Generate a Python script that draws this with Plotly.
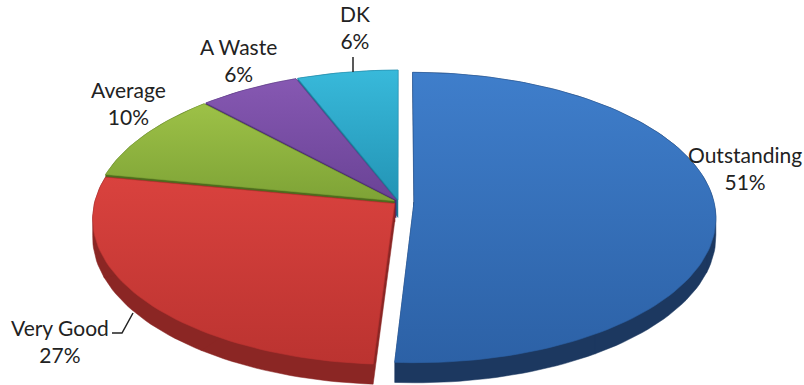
import numpy as np
import plotly.graph_objects as go

# Survey result shares (percent)
categories = ["Outstanding", "Very Good", "Average", "A Waste", "DK"]
shares = [51, 27, 10, 6, 6]

# Styling per slice
top_colors = [("#3f7ecb", "#2c61a6"), ("#d9423e", "#bb3330"), ("#9dc147", "#7ea336"),
              ("#8658b2", "#6a4396"), ("#38b9da", "#2394b5")]
side_colors = ["#1c3860", "#8b2624", "#4e6c1d", "#4b2d71", "#1c7b96"]
explode = [0.05, 0.018, 0.018, 0.018, 0.018]

W, H = 804, 385
CX, CY = 399, 202          # centre of the disk on screen
RX, RY = 300, 143.5        # screen radii of the tilted disk
FOCAL = 9.5                # perspective strength (in disk radii)
DEPTH = 18                 # thickness of the disk in pixels


def project(u, v, z=0.0):
    """Map disk coords (u right, v toward viewer) to screen pixels."""
    s = FOCAL / (FOCAL - v)
    return CX + RX * u * s, CY + RY * v * s + DEPTH * z * s


def hull(points):
    pts = sorted(set(points))
    if len(pts) < 3:
        return pts

    def cross(o, a, b):
        return (a[0] - o[0]) * (b[1] - o[1]) - (a[1] - o[1]) * (b[0] - o[0])

    lower, upper = [], []
    for p in pts:
        while len(lower) >= 2 and cross(lower[-2], lower[-1], p) <= 0:
            lower.pop()
        lower.append(p)
    for p in reversed(pts):
        while len(upper) >= 2 and cross(upper[-2], upper[-1], p) <= 0:
            upper.pop()
        upper.append(p)
    return lower[:-1] + upper[:-1]


def wedge(t0, t1, du, dv, z):
    n = max(4, int(np.degrees(t1 - t0) / 1.5))
    ts = np.linspace(t0, t1, n)
    pts = [project(du, dv, z)]
    pts += [project(du + np.sin(t), dv - np.cos(t), z) for t in ts]
    return pts


total = float(sum(shares))
bounds = np.concatenate([[0.0], np.cumsum(shares) / total * 2 * np.pi])

slices = []
for i in range(len(shares)):
    t0, t1 = bounds[i], bounds[i + 1]
    mid = 0.5 * (t0 + t1)
    du, dv = explode[i] * np.sin(mid), -explode[i] * np.cos(mid)
    slices.append((dv, i, t0, t1, du))

fig = go.Figure()

# back slices first so nearer ones overlap them
for dv, i, t0, t1, du in sorted(slices, key=lambda s: s[0]):
    # extruded side: union of hulls of narrow sub-wedges (top + bottom faces)
    nsub = int(np.ceil(np.degrees(t1 - t0) / 45.0))
    edges = np.linspace(t0, t1, nsub + 1)
    for a, b in zip(edges[:-1], edges[1:]):
        pts = hull(wedge(a, b, du, dv, 0) + wedge(a, b, du, dv, 1))
        xs = [p[0] for p in pts] + [pts[0][0]]
        ys = [p[1] for p in pts] + [pts[0][1]]
        fig.add_trace(go.Scatter(x=xs, y=ys, mode="lines", fill="toself",
                                 fillcolor=side_colors[i],
                                 line=dict(width=0.5, color=side_colors[i]),
                                 hoverinfo="skip", showlegend=False))
    # top face with a soft vertical gradient
    pts = wedge(t0, t1, du, dv, 0)
    xs = [p[0] for p in pts] + [pts[0][0]]
    ys = [p[1] for p in pts] + [pts[0][1]]
    c0, c1 = top_colors[i]
    fig.add_trace(go.Scatter(
        x=xs, y=ys, mode="lines", fill="toself",
        fillgradient=dict(type="vertical", colorscale=[[0, c0], [1, c1]],
                          start=min(ys), stop=max(ys)),
        line=dict(width=0.6, color=c1),
        name=categories[i], text=f"{categories[i]}: {shares[i]}%",
        hoverinfo="text", showlegend=False))

# data labels
label_xy = [(745, 168), (60, 341), (128, 103), (238, 60), (355, 27)]
for i, (lx, ly) in enumerate(label_xy):
    fig.add_annotation(x=lx, y=ly, xref="x", yref="y", showarrow=False,
                       text=f"{categories[i]}<br>{shares[i]}%",
                       font=dict(family="Lato", size=21, color="#222222"),
                       align="center")

# leader lines
line_style = dict(color="#222222", width=1.5)
fig.add_shape(type="line", x0=353, y0=57, x1=353, y1=72, xref="x", yref="y", line=line_style)
fig.add_shape(type="path", path="M 112 333 L 122 333 L 133 313", xref="x", yref="y", line=line_style)

fig.update_layout(
    width=W, height=H, autosize=False,
    margin=dict(l=0, r=0, t=0, b=0),
    paper_bgcolor="white", plot_bgcolor="white",
    xaxis=dict(range=[0, W], visible=False, fixedrange=True),
    yaxis=dict(range=[H, 0], visible=False, fixedrange=True),
)

fig.write_html("out.html")
